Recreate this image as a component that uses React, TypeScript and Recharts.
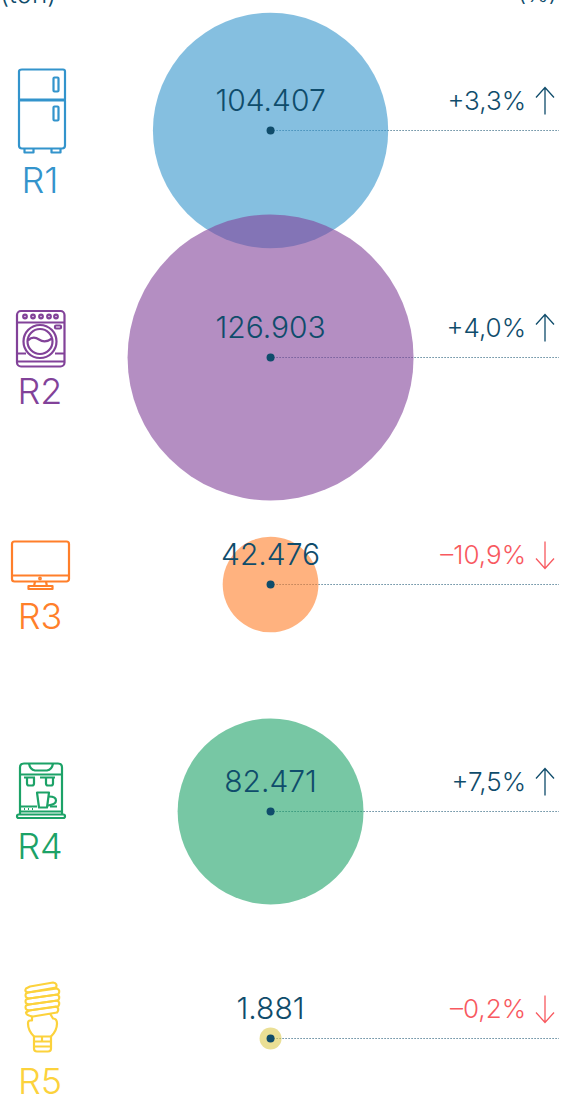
import * as React from 'react';
import {
  ReferenceLine,
  Scatter,
  ScatterChart,
  XAxis,
  YAxis,
  ZAxis,
} from 'recharts';

const groups = ['R1', 'R2', 'R3', 'R4', 'R5'];
const tons = [104407, 126903, 42476, 82471, 1881];
const changes = [3.3, 4.0, -10.9, 7.5, -0.2];

const colors: Record<string, string> = {
  R1: '#3394cc',
  R2: '#824299',
  R3: '#ff7f2a',
  R4: '#1ca267',
  R5: '#fcd23c',
};

const INK = '#0f4c6b';
const RED = '#f8595f';
const FONT = 'Inter, sans-serif';
const MAX_RADIUS = 143;
const MIN_RADIUS = 11;

const rows = groups.map((group, i) => ({
  group,
  center: 0,
  tons: tons[i],
  change: changes[i],
}));

const formatTons = (v: number) => v.toLocaleString('de-DE');
const formatChange = (v: number) =>
  `${v > 0 ? '+' : '–'}${Math.abs(v).toFixed(1).replace('.', ',')}%`;

function Fridge() {
  return (
    <g>
      <path d="M22 -61 H63 Q65 -61 65 -59 V-31 H19 V-59 Q19 -61 22 -61 Z" />
      <path d="M19 -30 H65 V15 Q65 18 62 18 H22 Q19 18 19 15 Z" />
      <rect x={53.5} y={-53} width={5} height={14} rx={1} />
      <rect x={53.5} y={-24} width={5} height={14} rx={1} />
      <path d="M24.5 18 V22 H33.5 V18 M51.5 18 V22 H60.5 V18" />
    </g>
  );
}

function Washer() {
  return (
    <g>
      <rect x={17} y={-46.5} width={47.5} height={55.5} rx={4} />
      <path d="M17 -35 H64.5 M17 -4 H26 M55 -4 H64.5 M17 4 H64.5" />
      {[25, 33, 41, 49, 56].map(x => (
        <circle key={x} cx={x} cy={-41} r={1.8} />
      ))}
      <rect x={55} y={-32} width={6} height={3} rx={1} />
      <circle cx={40} cy={-16} r={16.5} />
      <circle cx={40} cy={-16} r={12.5} />
      <path d="M28 -17 Q33 -22 39 -18 Q45 -14 52 -19" />
    </g>
  );
}

function Monitor() {
  return (
    <g>
      <rect x={12} y={-43} width={57} height={40} rx={2.5} />
      <path d="M12 -9 H69 M35 -3 L34 2 M46 -3 L47 2" />
      <rect x={28.5} y={1.5} width={24} height={3} />
      <circle cx={40} cy={-6} r={0.8} />
    </g>
  );
}

function Coffee() {
  return (
    <g>
      <path d="M20 3 V-44 Q20 -48 24 -48 H58 Q62 -48 62 -44 V3" />
      <path d="M29 -48 Q30 -42 35 -41 H47 Q52 -42 53 -48" />
      <path d="M20 -37 H62 M24 -34 H35 M40 -34 H55" />
      <path d="M27 -34 V-28 Q27 -26 29 -26 H32 Q34 -26 34 -28 V-34" />
      <path d="M46 -34 V-28 Q46 -26 48 -26 H51 Q53 -26 53 -28 V-34" />
      <path d="M37 -19 H49 L47 -4 H39 Z" />
      <path d="M49 -15 Q56 -15 56 -11 Q56 -7 48 -6" />
      <path d="M20 -5 H37 M50 -5 H57 M20 0 H62" />
      <path d="M24 -2.5 H25 M28 -2.5 H29 M32 -2.5 H33" />
      <rect x={17} y={3} width={48} height={3.5} rx={1.7} />
    </g>
  );
}

function Bulb() {
  return (
    <g>
      <path d="M30 -52 L53 -56 Q58 -55 56 -51 L28 -46 Q24 -47 26 -50 Z" />
      <path d="M28 -46 L57 -50 Q61 -48 58 -44 L29 -40 Q24 -41 26 -45 Z" />
      <path d="M29 -40 L57 -44 Q61 -42 58 -38 L29 -34 Q24 -35 26 -39 Z" />
      <path d="M29 -34 L57 -38 Q61 -36 58 -32 L29 -28 Q24 -29 26 -33 Z" />
      <path d="M29 -28 L56 -32 Q60 -30 57 -26 L33 -22 Q26 -23 26 -26 Z" />
      <path d="M32 -22 V-18 H30 Q28 -18 28 -15 Q28 -8 34 -2 V10 Q34 13 37 13 H48 Q51 13 51 10 V-2 Q57 -8 57 -15 Q57 -20 53 -20 L50 -25" />
      <path d="M34 -2 H51 M34 3 H51 M34 8 H51 M42 -2 V3" />
    </g>
  );
}

const icons: Record<string, { Icon: React.FC; labelY: number }> = {
  R1: { Icon: Fridge, labelY: 62 },
  R2: { Icon: Washer, labelY: 46 },
  R3: { Icon: Monitor, labelY: 44 },
  R4: { Icon: Coffee, labelY: 47 },
  R5: { Icon: Bulb, labelY: 55 },
};

function GroupTick({ y, payload }: any) {
  const group = payload.value as string;
  const { Icon, labelY } = icons[group];
  return (
    <g transform={`translate(0,${y})`}>
      <g fill="none" stroke={colors[group]} strokeWidth={2.2} strokeLinejoin="round">
        <Icon />
      </g>
      <text
        x={40}
        y={labelY}
        textAnchor="middle"
        fontFamily={FONT}
        fontWeight={300}
        fontSize={36}
        fill={colors[group]}
      >
        {group}
      </text>
    </g>
  );
}

function Bubble({ cx, cy, size, payload }: any) {
  const r = Math.max(size, MIN_RADIUS);
  const fill = payload.group === 'R5' ? '#dcc94e' : colors[payload.group];
  return <circle cx={cx} cy={cy} r={r} fill={fill} fillOpacity={0.6} />;
}

function Marker({ cx, cy, payload }: any) {
  const up = payload.change > 0;
  const tone = up ? INK : RED;
  const ax = 545;
  return (
    <g fontFamily={FONT} fontWeight={300}>
      <circle cx={cx} cy={cy} r={4} fill={INK} />
      <text x={cx} y={cy - 19.5} textAnchor="middle" fontSize={30} fill={INK}>
        {formatTons(payload.tons)}
      </text>
      <text x={526} y={cy - 20.5} textAnchor="end" fontSize={26} fill={tone}>
        {formatChange(payload.change)}
      </text>
      {up ? (
        <path
          d={`M${ax} ${cy - 16} V${cy - 43} M${ax - 9} ${cy - 33} L${ax} ${cy - 43} L${ax + 9} ${cy - 33}`}
          fill="none"
          stroke={tone}
          strokeWidth={1.3}
        />
      ) : (
        <path
          d={`M${ax} ${cy - 43} V${cy - 16} M${ax - 9} ${cy - 26} L${ax} ${cy - 16} L${ax + 9} ${cy - 26}`}
          fill="none"
          stroke={tone}
          strokeWidth={1.3}
        />
      )}
    </g>
  );
}

const headerStyle: React.CSSProperties = {
  position: 'absolute',
  top: -21,
  fontFamily: FONT,
  fontWeight: 300,
  fontSize: 26,
  lineHeight: '30px',
  color: INK,
};

export default function App() {
  return (
    <div
      style={{
        position: 'absolute',
        left: 0,
        top: 0,
        width: 561,
        height: 1094,
        overflow: 'hidden',
        background: '#ffffff',
      }}
    >
      <span style={{ ...headerStyle, left: 0 }}>(ton)</span>
      <span style={{ ...headerStyle, right: 4, fontSize: 24 }}>(%)</span>
      <ScatterChart
        width={561}
        height={1094}
        margin={{ top: 130.5, right: 2, bottom: 55.5, left: 0 }}
      >
        <XAxis type="number" dataKey="center" domain={[-1, 1.07]} hide />
        <YAxis
          type="category"
          dataKey="group"
          scale="point"
          reversed
          width={1}
          axisLine={false}
          tickLine={false}
          interval={0}
          tick={<GroupTick />}
        />
        <ZAxis
          type="number"
          dataKey="tons"
          domain={[0, Math.max(...tons)]}
          range={[0, MAX_RADIUS]}
        />
        <Scatter data={rows} shape={<Bubble />} isAnimationActive={false} />
        {groups.map(group => (
          <ReferenceLine
            key={group}
            segment={[
              { x: 0, y: group },
              { x: 1.07, y: group },
            ]}
            stroke={INK}
            strokeWidth={1}
            strokeDasharray="1 2"
          />
        ))}
        <Scatter data={rows} shape={<Marker />} isAnimationActive={false} />
      </ScatterChart>
    </div>
  );
}
